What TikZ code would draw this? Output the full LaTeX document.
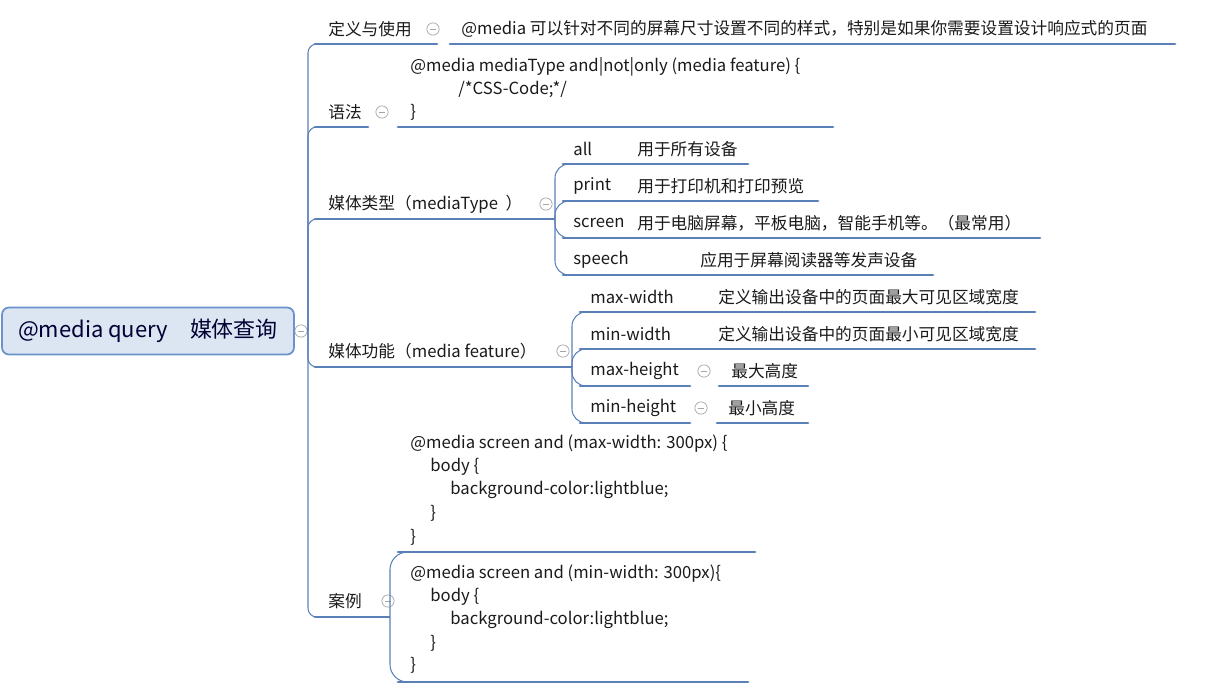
\documentclass[tikz,border=0pt]{standalone}
\usepackage{fontspec}
\setmainfont{Noto Sans CJK SC}
\definecolor{linec}{HTML}{5B80B8}
\definecolor{rootfill}{HTML}{DCE6F2}
\definecolor{rootdraw}{HTML}{6A92CC}
\definecolor{txtc}{HTML}{1A1A1A}
\tikzset{
  lbl/.style={anchor=west, inner sep=0pt, text=txtc, font=\fontsize{9.5}{11}\selectfont},
  uline/.style={draw=linec, line width=1.6pt, line cap=round},
  conn/.style={draw=linec, line width=0.6pt, rounded corners=5pt},
  fold/.style={circle, draw=gray!70, line width=0.4pt, minimum size=7pt, inner sep=0pt,
    path picture={\draw[gray!70, line width=0.4pt] ([xshift=-1.8pt]path picture bounding box.center) -- ([xshift=1.8pt]path picture bounding box.center);}},
}
\begin{document}
\begin{tikzpicture}[x=0.02cm, y=-0.02cm]
\useasboundingbox (0,0) rectangle (1205,694);
% root
\node[draw=rootdraw, fill=rootfill, line width=1pt, rounded corners=4pt, minimum width=292*0.02cm,
      minimum height=47*0.02cm, text=black!80!blue, font=\fontsize{12.5}{14}\selectfont] (root) at (148,331)
  {@media query\quad 媒体查询};
\node[fold] (rootfold) at (301,331) {};
\coordinate (trunk) at (308,331);
% branches
\foreach \name/\y/\xe in {def/44/437, syn/127/368, typ/219/538, fea/367/556, case/617/375}
  {\coordinate (\name) at (315,\y);
   \draw[conn] (trunk) |- (\name);
   \draw[uline] (\name) -- (\xe,\y);}
\node[lbl] (deft) at (328,29) {定义与使用};
\node[fold] (deff) at (433,29) {};
\node[lbl] (defd) at (461,29) {@media 可以针对不同的屏幕尺寸设置不同的样式，特别是如果你需要设置设计响应式的页面};
\draw[uline] (450,44) -- (1175,44);
\node[lbl] (synt) at (328,112) {语法};
\node[fold] (synf) at (382,112) {};
\node[lbl] (syn1) at (410,67) {@media mediaType and|not|only (media feature) \{};
\node[lbl] (syn2) at (458,89) {/*CSS-Code;*/};
\node[lbl] (syn3) at (410,112) {\}};
\draw[uline] (398,127) -- (833,127);
% media types
\node[lbl] (typt) at (328,204) {媒体类型（mediaType\ \ ）};
\node[fold] (typf) at (546,204) {};
\coordinate (typj) at (555,219);
\draw[conn] (538,219) -- (typj);
\foreach \name/\y/\xe/\xd/\a/\b in {all/164/748/637/all/用于所有设备, prn/201/818/637/print/用于打印机和打印预览,
    scr/238/1040/637/screen/用于电脑屏幕，平板电脑，智能手机等。（最常用）, spk/275/933/700/speech/应用于屏幕阅读器等发声设备}
  {\coordinate (\name) at (563,\y);
   \draw[conn, rounded corners=8pt] (typj) |- (\name);
   \draw[uline] (\name) -- (\xe,\y);
   \node[lbl] (\name a) at (573,\y-15) {\a};
   \node[lbl] (\name b) at (\xd,\y-15) {\b};}
% media features
\node[lbl] (feat) at (328,351) {媒体功能（media feature）};
\node[fold] (feaf) at (563,351) {};
\coordinate (feaj) at (572,367);
\draw[conn] (556,367) -- (feaj);
\foreach \name/\y/\xe/\a in {maxw/312/1035/max-width, minw/349/1035/min-width, maxh/386/690/max-height, minh/423/690/min-height}
  {\coordinate (\name) at (580,\y);
   \draw[conn, rounded corners=8pt] (feaj) |- (\name);
   \draw[uline] (\name) -- (\xe,\y);
   \node[lbl] (\name a) at (590,\y-15) {\a};}
\node[lbl] (maxwb) at (718,297) {定义输出设备中的页面最大可见区域宽度};
\node[lbl] (minwb) at (718,334) {定义输出设备中的页面最小可见区域宽度};
\node[fold] (maxhf) at (704,371) {};
\node[lbl] (maxhb) at (731,371) {最大高度};
\draw[uline] (719,386) -- (808,386);
\node[fold] (minhf) at (701,408) {};
\node[lbl] (minhb) at (728,408) {最小高度};
\draw[uline] (717,423) -- (808,423);
% cases
\node[lbl] (caset) at (328,601) {案例};
\node[fold] (casef) at (388,601) {};
\coordinate (casej) at (390,617);
\draw[conn] (375,617) -- (casej);
\coordinate (cs1) at (398,552);
\coordinate (cs2) at (398,682);
\draw[conn, rounded corners=10pt] (casej) |- (cs1);
\draw[conn, rounded corners=10pt] (casej) |- (cs2);
\draw[uline] (cs1) -- (755,552);
\draw[uline] (cs2) -- (748,682);
\node[lbl] (c11) at (410,444) {@media screen and (max-width: 300px) \{};
\node[lbl] (c12) at (430,467) {body \{};
\node[lbl] (c13) at (450,490) {background-color:lightblue;};
\node[lbl] (c14) at (430,513) {\}};
\node[lbl] (c15) at (410,537) {\}};
\node[lbl] (c21) at (410,574) {@media screen and (min-width: 300px)\{};
\node[lbl] (c22) at (430,597) {body \{};
\node[lbl] (c23) at (450,620) {background-color:lightblue;};
\node[lbl] (c24) at (430,643) {\}};
\node[lbl] (c25) at (410,665) {\}};
\end{tikzpicture}
\end{document}
